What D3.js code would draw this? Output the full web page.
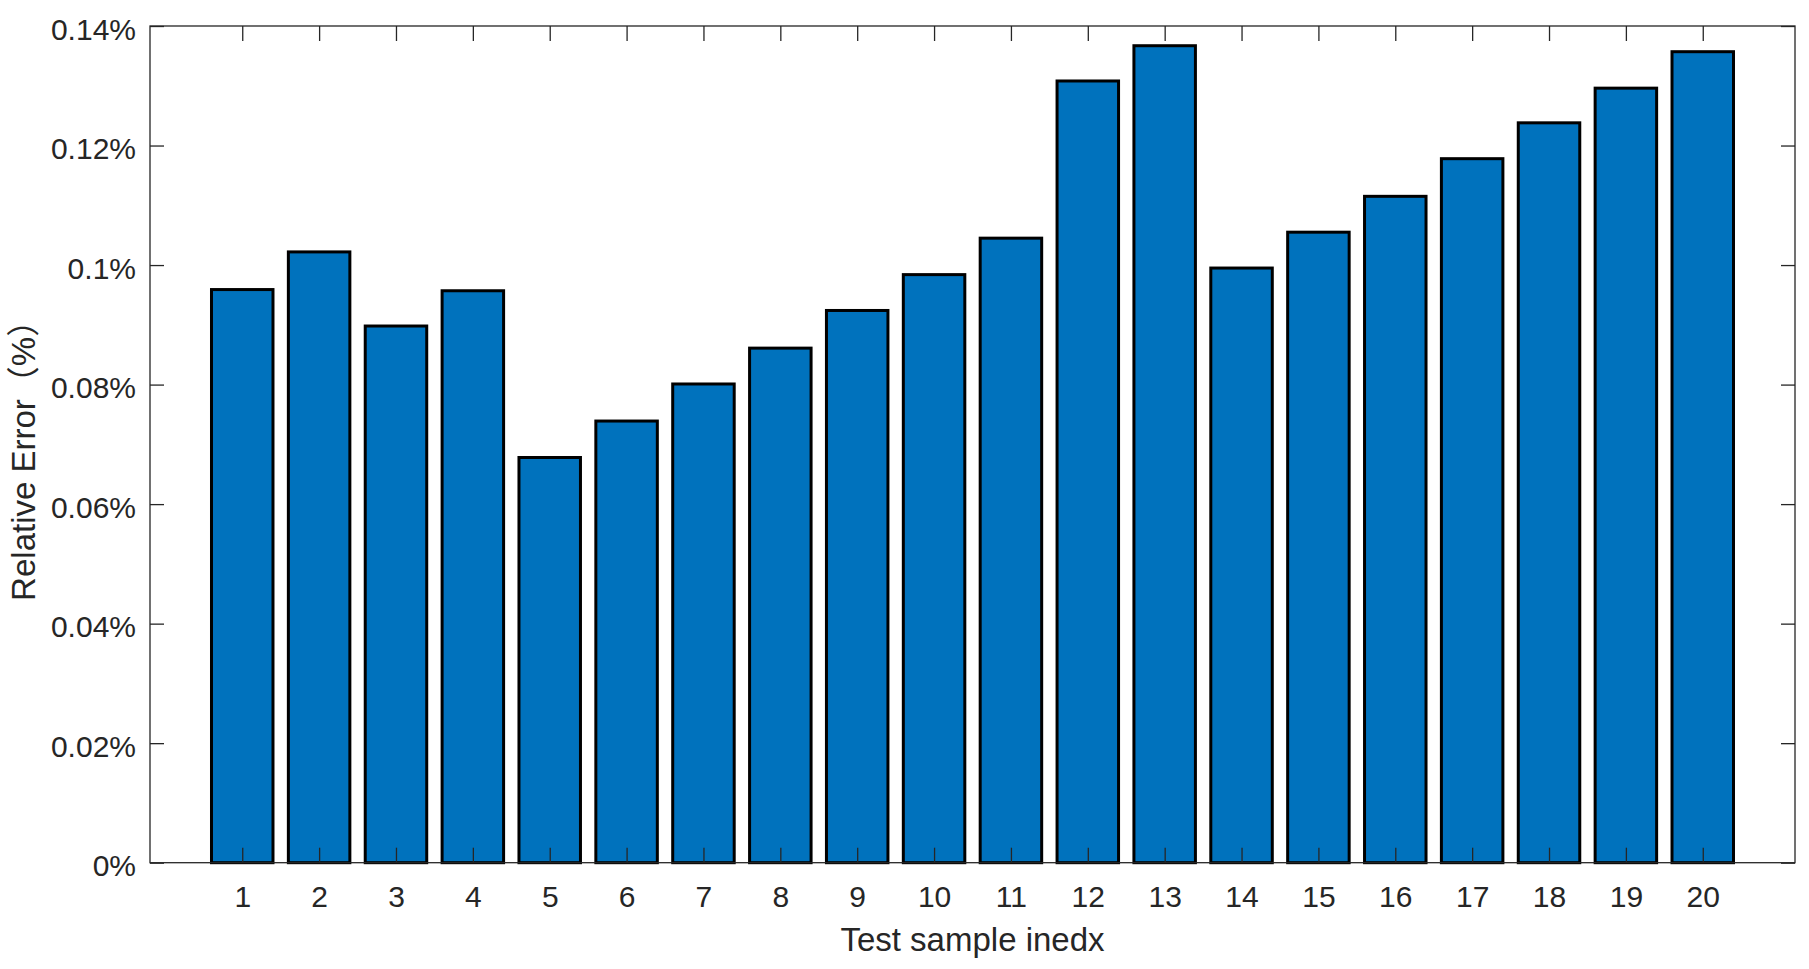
<!DOCTYPE html>
<html>
<head>
    <meta charset="UTF-8">
    <title>Relative Error</title>
    <script src="https://cdn.jsdelivr.net/npm/d3@7"></script>
    <style>
        body { margin: 0; background: #fff; }
        text { font-family: "Liberation Sans", Arial, "Noto Sans CJK SC", sans-serif; fill: #262626; }
    </style>
</head>
<body>
    <div id="chart"></div>
    <script>
        // 数据
        var samples = d3.range(1, 21);
        var relError = [0.0959, 0.1022, 0.0898, 0.0957, 0.0678, 0.0739, 0.0801, 0.0861, 0.0924, 0.0984,
            0.1045, 0.1308, 0.1367, 0.0995, 0.1055, 0.1115, 0.1178, 0.1238, 0.1296, 0.1357];
        var yTicks = [0, 0.02, 0.04, 0.06, 0.08, 0.1, 0.12, 0.14];

        var width = 1809, height = 969;
        // 绘图区边界 (注意不能用 top 作为全局变量名)
        var plotL = 150, plotR = 1795, plotT = 26, plotB = 862.7;

        var x = d3.scaleLinear().domain([-0.2, 21.2]).range([plotL, plotR]);
        var y = d3.scaleLinear().domain([0, 0.14]).range([plotB, plotT]);
        var barW = (x(1.8) - x(1));

        var svg = d3.select("#chart").append("svg")
            .attr("width", width)
            .attr("height", height);

        // 柱子
        svg.append("g").selectAll("rect")
            .data(relError)
            .enter().append("rect")
            .attr("x", function (d, i) { return x(samples[i]) - barW / 2; })
            .attr("y", function (d) { return y(d); })
            .attr("width", barW)
            .attr("height", function (d) { return y(0) - y(d); })
            .attr("fill", "#0072BD")
            .attr("stroke", "#000")
            .attr("stroke-width", 3);

        var axisColor = "#262626";

        // 坐标轴 (刻度向内)
        var xAxis = svg.append("g")
            .attr("transform", "translate(0," + plotB + ")")
            .call(d3.axisBottom(x).tickValues(samples).tickSize(-15).tickPadding(0).tickFormat(d3.format("d")));
        xAxis.selectAll("text").attr("dy", null).attr("y", 44).attr("font-size", "30px");

        var xTop = svg.append("g")
            .attr("transform", "translate(0," + plotT + ")")
            .call(d3.axisTop(x).tickValues(samples).tickSize(-15).tickFormat(""));

        var yAxis = svg.append("g")
            .attr("transform", "translate(" + plotL + ",0)")
            .call(d3.axisLeft(y).tickValues(yTicks).tickSize(-14).tickPadding(14)
                .tickFormat(function (d) { return d3.format("~g")(d) + "%"; }));
        yAxis.selectAll("text").attr("dy", "13px").attr("font-size", "30px");

        var yRight = svg.append("g")
            .attr("transform", "translate(" + plotR + ",0)")
            .call(d3.axisRight(y).tickValues(yTicks).tickSize(-14).tickFormat(""));

        [xAxis, xTop, yAxis, yRight].forEach(function (g) {
            g.select(".domain").remove();
            g.selectAll(".tick line").attr("stroke", axisColor).attr("stroke-width", 1.3);
            g.attr("font-family", null).attr("font-size", null);
        });

        // 边框
        svg.append("rect")
            .attr("x", plotL).attr("y", plotT)
            .attr("width", plotR - plotL).attr("height", plotB - plotT)
            .attr("fill", "none")
            .attr("stroke", axisColor)
            .attr("stroke-width", 1.3);

        // 轴标题
        svg.append("text")
            .attr("x", (plotL + plotR) / 2)
            .attr("y", 951)
            .attr("text-anchor", "middle")
            .attr("font-size", "33px")
            .text("Test sample inedx");

        svg.append("text")
            .attr("transform", "translate(35," + ((plotT + plotB) / 2 + 8) + ") rotate(-90)")
            .attr("text-anchor", "middle")
            .attr("font-size", "33px")
            .text("Relative Error（%）");
    </script>
</body>
</html>
